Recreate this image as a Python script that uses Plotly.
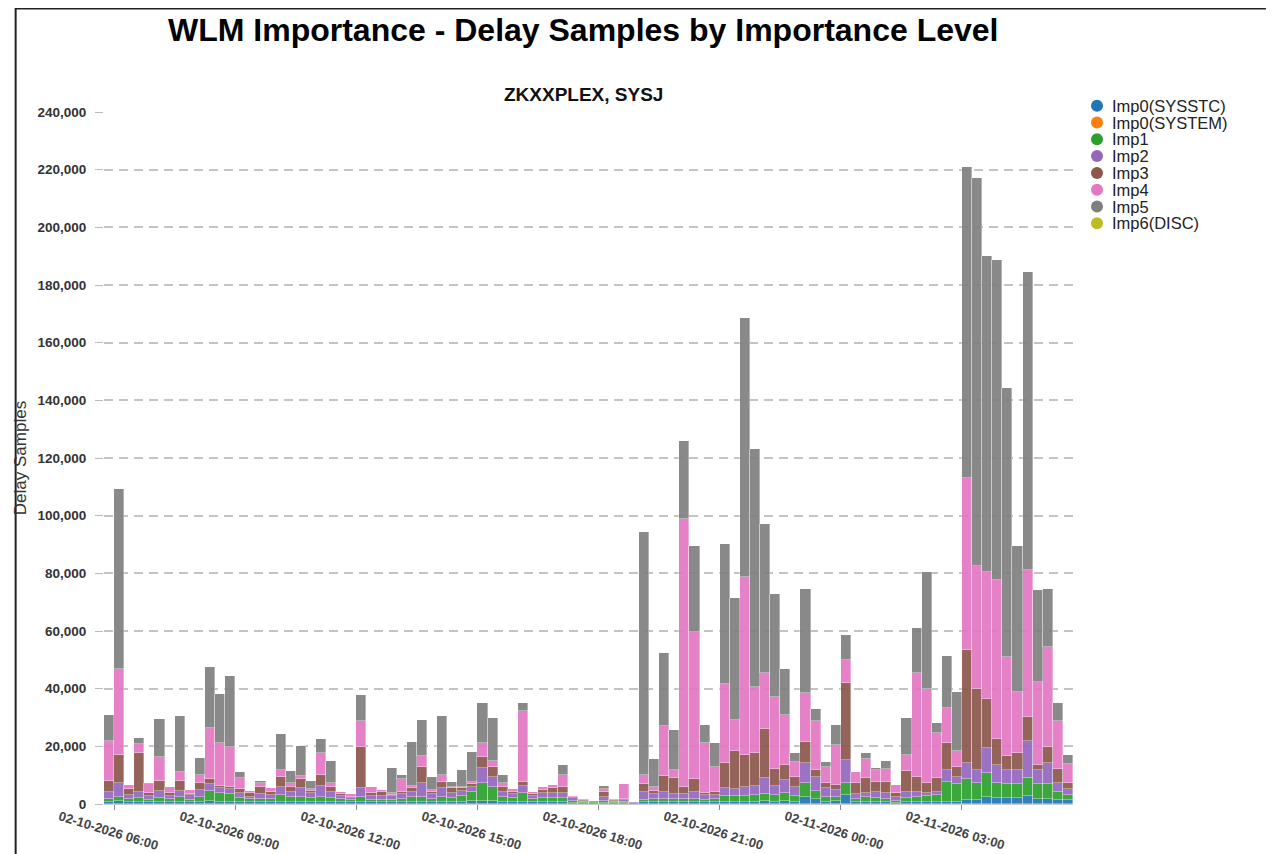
import pandas as pd
import plotly.graph_objects as go

# ---------------- data ----------------
start_time = "2026-02-10 05:45"
n_periods = 96
interval = "15min"

series_names = ["Imp0(SYSSTC)", "Imp0(SYSTEM)", "Imp1", "Imp2", "Imp3", "Imp4", "Imp5", "Imp6(DISC)"]
series_colors = ["#1f77b4", "#ff7f0e", "#2ca02c", "#9467bd", "#8c564b", "#e377c2", "#7f7f7f", "#bcbd22"]

imp0_sysstc = [800, 900, 800, 800, 700, 800, 700, 800, 700, 800, 900, 800, 800, 800, 700, 700, 700, 800, 800, 800, 800, 800, 800, 700,
               600, 800, 700, 600, 600, 600, 700, 800, 700, 800, 700, 800, 900, 1000, 900, 800, 700, 800, 600, 700, 700, 700, 500, 400,
               300, 400, 400, 400, 200, 600, 600, 600, 600, 600, 600, 600, 600, 800, 800, 800, 800, 900, 800, 900, 800, 2500, 1600, 800,
               1200, 3100, 600, 800, 700, 700, 400, 600, 600, 600, 600, 800, 800, 1400, 1400, 2300, 2000, 2000, 2000, 2800, 1700, 1700, 1400, 1400]
imp0_system = [0, 0, 0, 0, 0, 0, 0, 0, 0, 0, 0, 0, 0, 0, 0, 0, 0, 0, 0, 0, 0, 0, 0, 0,
               0, 0, 0, 0, 0, 0, 0, 0, 0, 0, 0, 0, 0, 0, 0, 0, 0, 0, 0, 0, 0, 0, 0, 0,
               0, 0, 0, 0, 0, 0, 0, 0, 0, 0, 0, 0, 0, 0, 0, 0, 0, 0, 0, 0, 0, 0, 0, 0,
               0, 0, 0, 0, 0, 0, 0, 0, 0, 0, 0, 0, 0, 0, 0, 0, 0, 0, 0, 0, 0, 0, 0, 0]
imp1 = [800, 1600, 800, 1200, 700, 1300, 900, 1500, 800, 1500, 3700, 2900, 2700, 1200, 900, 900, 900, 2300, 1700, 1700, 1200, 1700, 1200, 900,
        700, 1700, 800, 800, 900, 1300, 1600, 1700, 1200, 1500, 1300, 2000, 3400, 6200, 4900, 1700, 1300, 2900, 1000, 1300, 1300, 1300, 700, 400,
        300, 600, 400, 400, 200, 800, 1000, 1100, 1100, 1100, 1200, 900, 1100, 2000, 2000, 2000, 2300, 2600, 2300, 3000, 2000, 4700, 3000, 1700,
        1300, 4100, 1100, 1700, 1500, 1200, 600, 1400, 1700, 2200, 2500, 6900, 6100, 7200, 6000, 8300, 5200, 4900, 4900, 6100, 5200, 5200, 2900, 1700]
imp2 = [2700, 4900, 1500, 2300, 1400, 2500, 1200, 2300, 1500, 2600, 2300, 1700, 1700, 1700, 1000, 1900, 1500, 2900, 1800, 2900, 1900, 3900, 2300, 1200,
        900, 3200, 1200, 1500, 1200, 1600, 1900, 4900, 1600, 3100, 1700, 1700, 1700, 5200, 3700, 1800, 1500, 2700, 1200, 1700, 1900, 1900, 900, 400,
        200, 1300, 400, 500, 200, 2900, 1900, 2600, 1800, 1800, 2500, 1600, 1400, 2900, 2300, 3200, 3100, 5400, 3100, 4400, 3200, 7100, 4600, 2900,
        2400, 8100, 1800, 1400, 2100, 2000, 1300, 2300, 2000, 900, 1200, 4100, 2600, 5500, 4400, 8700, 6300, 4900, 4900, 13100, 4900, 7400, 2900, 2100]
imp3 = [3800, 9500, 2000, 13500, 1100, 3400, 1100, 3300, 500, 2300, 1800, 1000, 800, 1500, 1100, 2300, 1200, 3200, 1700, 3200, 700, 3600, 1500, 500,
        400, 14200, 1000, 1200, 500, 500, 1200, 5500, 600, 2100, 2000, 1200, 900, 4000, 3400, 1700, 800, 1100, 800, 1200, 1800, 1900, 500, 200,
        100, 1700, 300, 300, 100, 2600, 1100, 5400, 5400, 2500, 4300, 800, 900, 8600, 13300, 11000, 11400, 17000, 5800, 5200, 3500, 7300, 2600, 1800,
        1700, 26500, 3700, 5000, 3400, 3800, 1600, 7300, 5200, 3500, 4600, 9500, 3400, 39300, 28100, 17100, 9000, 5000, 5800, 8100, 1700, 5600, 4800, 2000]
imp4 = [13900, 29900, 1500, 3000, 3000, 8400, 2100, 3300, 1200, 3000, 17800, 14600, 13700, 3700, 900, 1400, 1100, 2600, 1200, 1100, 700, 7800, 1400, 1000,
        700, 8900, 2300, 600, 700, 4700, 1000, 3900, 800, 2500, 300, 300, 800, 4900, 2100, 1200, 900, 24800, 700, 900, 900, 4200, 200, 200,
        100, 1200, 200, 5200, 100, 3100, 1400, 17300, 2900, 92900, 51100, 17100, 8900, 27300, 10700, 61800, 23000, 19600, 25100, 17400, 5200, 17000, 17000, 5700,
        13900, 8200, 4000, 6700, 4100, 4400, 2700, 5400, 35800, 32600, 15800, 11900, 5500, 59600, 42600, 44100, 55200, 34100, 21400, 51100, 28800, 34700, 16900, 6700]
imp5 = [8750, 62500, 0, 2100, 300, 13100, 0, 19200, 200, 5800, 20900, 17100, 24700, 2100, 0, 900, 200, 12500, 4400, 10500, 2600, 4900, 7600, 0,
        200, 9000, 0, 0, 8500, 1300, 15000, 12300, 4600, 20500, 1700, 5800, 10400, 13800, 14900, 2800, 0, 2600, 0, 0, 0, 3500, 100, 0,
        0, 1200, 0, 0, 0, 84300, 9600, 25200, 13900, 27000, 29800, 6300, 8100, 48600, 42400, 89800, 82500, 51500, 35700, 15900, 3000, 36000, 4200, 1700,
        6800, 8600, 0, 2000, 600, 2800, 0, 13000, 15700, 40700, 3500, 18100, 20500, 108000, 134500, 109500, 111000, 93400, 50500, 103300, 31900, 20000, 6200, 3100]
imp6_disc = [0, 0, 0, 0, 0, 0, 0, 0, 0, 0, 0, 0, 0, 0, 0, 0, 0, 0, 0, 0, 0, 0, 0, 0,
             0, 0, 0, 0, 0, 0, 0, 0, 0, 0, 0, 0, 0, 0, 0, 0, 0, 0, 0, 0, 0, 0, 0, 0,
             0, 0, 0, 0, 0, 0, 0, 0, 0, 0, 0, 0, 0, 0, 0, 0, 0, 0, 0, 0, 0, 0, 0, 0,
             0, 0, 0, 0, 0, 0, 0, 0, 0, 0, 0, 0, 0, 0, 0, 0, 0, 0, 0, 0, 0, 0, 0, 0]

tick_times = ["2026-02-10 06:00", "2026-02-10 09:00", "2026-02-10 12:00", "2026-02-10 15:00",
              "2026-02-10 18:00", "2026-02-10 21:00", "2026-02-11 00:00", "2026-02-11 03:00"]
tick_labels = ["02-10-2026 06:00", "02-10-2026 09:00", "02-10-2026 12:00", "02-10-2026 15:00",
               "02-10-2026 18:00", "02-10-2026 21:00", "02-11-2026 00:00", "02-11-2026 03:00"]
y_ticks = [0, 20000, 40000, 60000, 80000, 100000, 120000, 140000, 160000, 180000, 200000, 220000, 240000]

title_text = "WLM Importance - Delay Samples by Importance Level"
subtitle_text = "ZKXXPLEX, SYSJ"
y_title = "Delay Samples"

# ---------------- figure ----------------
times = pd.date_range(start_time, periods=n_periods, freq=interval)
series_values = [imp0_sysstc, imp0_system, imp1, imp2, imp3, imp4, imp5, imp6_disc]
interval_ms = 15 * 60 * 1000

# page has an 8px body margin; figure sized to fill the rest of the window
W, H = 1266, 846
ML, MR, MT, MB = 89, 201, 104, 50
FONT = "Liberation Sans, Arial, sans-serif"

fig = go.Figure()
for name, color, vals in zip(series_names, series_colors, series_values):
    fig.add_trace(go.Bar(
        x=times, y=vals, name=name, width=interval_ms, offset=0,
        marker=dict(color=color, opacity=0.92, line=dict(color="rgba(255,255,255,0.6)", width=0.6)),
        showlegend=False,
    ))

annotations = [
    dict(text="<b>" + subtitle_text + "</b>", xref="paper", yref="paper", x=0.5, y=1,
         yanchor="middle", yshift=18, xshift=-5, showarrow=False,
         font=dict(family=FONT, size=19, color="#111")),
    dict(text="<b>" + title_text + "</b>", xref="paper", yref="paper", x=0.5, y=1,
         yanchor="middle", yshift=82, xshift=-6, showarrow=False,
         font=dict(family=FONT, size=32, color="#000")),
]
for t, lab in zip(tick_times, tick_labels):
    annotations.append(dict(
        text="<b>" + lab + "</b>", x=t, xref="x", y=0, yref="paper",
        xanchor="center", yanchor="middle", yshift=-26, xshift=-6, textangle=17,
        showarrow=False, font=dict(family=FONT, size=13, color="#444"),
    ))

shapes = []
# custom legend: circles + labels placed right of the plot area
LEG_STEP = 16.8
for k, (name, color) in enumerate(zip(series_names, series_colors)):
    cy = 6.3 - LEG_STEP * k
    shapes.append(dict(type="circle", xref="paper", yref="paper",
                       xsizemode="pixel", ysizemode="pixel", xanchor=1, yanchor=1,
                       x0=18, x1=30, y0=cy - 6, y1=cy + 6,
                       fillcolor=color, line=dict(width=0)))
    annotations.append(dict(text=name, xref="paper", yref="paper", x=1, y=1,
                            xanchor="left", yanchor="middle", xshift=37, yshift=cy,
                            showarrow=False, font=dict(family=FONT, size=16.5, color="#222")))

pw = W - ML - MR
ph = H - MT - MB
shapes += [
    dict(type="line", xref="paper", yref="paper", x0=-ML / pw, x1=-ML / pw,
         y0=-MB / ph, y1=(ph + MT) / ph, line=dict(color="#222", width=2)),
    dict(type="line", xref="paper", yref="paper", x0=-ML / pw, x1=(pw + MR) / pw,
         y0=(ph + MT) / ph, y1=(ph + MT) / ph, line=dict(color="#222", width=3)),
]

fig.update_layout(
    width=W, height=H,
    margin=dict(l=ML, r=MR, t=MT, b=MB, pad=0),
    paper_bgcolor="white", plot_bgcolor="white",
    barmode="stack", bargap=0, showlegend=False,
    font=dict(family=FONT, color="#333"),
    xaxis=dict(
        type="date", range=[times[0], times[-1] + pd.Timedelta(interval)],
        tickvals=tick_times, showticklabels=False, ticks="outside", ticklen=5,
        tickcolor="#888", showgrid=False, showline=True, linecolor="#ccc", linewidth=1,
        zeroline=False,
    ),
    yaxis=dict(
        range=[0, 240000], tickvals=y_ticks, tickformat=",d",
        tickfont=dict(family=FONT, size=13.5, color="#333", weight="bold"),
        ticks="outside", ticklen=8, tickcolor="#bbb", ticklabelstandoff=6,
        showgrid=True, gridcolor="#c4c4c4", griddash="9px,6px", gridwidth=1.5,
        zeroline=False, showline=False,
        title=dict(text=y_title, standoff=6, font=dict(family=FONT, size=17, color="#333")),
    ),
    annotations=annotations,
    shapes=shapes,
)

fig.write_html("out.html")
